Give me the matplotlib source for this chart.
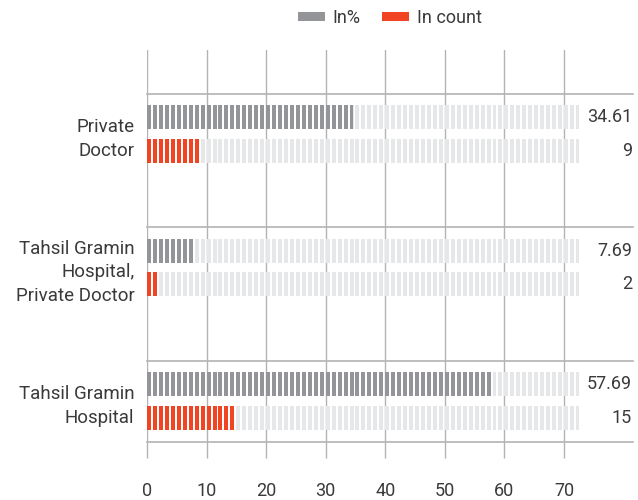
import numpy as np
import matplotlib.pyplot as plt
from matplotlib.patches import Patch

plt.rcParams['font.family'] = ['Roboto', 'DejaVu Sans']

# data
categories = ['Private\nDoctor', 'Tahsil Gramin\nHospital,\nPrivate Doctor', 'Tahsil Gramin\nHospital']
in_percent = [34.61, 7.69, 57.69]
in_count = [9, 2, 15]
bound = 72.5
x_ticks = [0, 10, 20, 30, 40, 50, 60, 70]

GREY = '#939598'
RED = '#f04423'
TRACK = '#e6e7e8'
LINE = '#b3b3b3'
TEXT = '#3a3a3a'

SEG = 0.67      # width of one block, in axis units
BAR_H = 0.18
OFFSET = 0.124


def blocks(ax, y, value, color):
    # one block per unit, last block clipped at the value
    lefts = np.arange(int(np.ceil(value)))
    widths = np.minimum(SEG, value - lefts)
    ax.barh(np.full(len(lefts), y), widths, left=lefts, height=BAR_H,
            color=color, linewidth=0, zorder=3)


fig = plt.figure(figsize=(6.38, 5), dpi=100)
ax = fig.add_axes([147 / 638, 1 - 442 / 500, 486 / 638, 392 / 500])

ypos = np.arange(len(categories))
for i, y in enumerate(ypos):
    for yy, val, col, lab in [(y - OFFSET, in_percent[i], GREY, f'{in_percent[i]:g}'),
                              (y + OFFSET, in_count[i], RED, f'{in_count[i]}')]:
        blocks(ax, yy, bound, TRACK)
        blocks(ax, yy, val, col)
        ax.text(81.4, yy, lab, ha='right', va='center', fontsize=13, color=TEXT)
    # separator above each group
    ax.plot([0, 1], [y - 0.3, y - 0.3], transform=ax.get_yaxis_transform(),
            color=LINE, lw=1.2, zorder=1, clip_on=False)

ax.set_xlim(0, 486 / 5.957)
ax.set_ylim(2.307, -0.629)

ax.set_xticks(x_ticks)
ax.set_xticklabels([str(t) for t in x_ticks])
ax.tick_params(axis='x', direction='out', length=11.5, width=1.0, color=LINE,
               pad=17, labelsize=13, labelcolor=TEXT)
ax.grid(axis='x', color=LINE, lw=1.0, zorder=0)

ax.set_yticks(ypos)
ax.set_yticklabels(categories, fontsize=13.5, color=TEXT, linespacing=1.42, ha='right')
ax.tick_params(axis='y', length=0, pad=9)

for s in ['top', 'right', 'left']:
    ax.spines[s].set_visible(False)
ax.spines['bottom'].set_color(LINE)
ax.spines['bottom'].set_linewidth(1.2)

handles = [Patch(facecolor=GREY, label='In%'), Patch(facecolor=RED, label='In count')]
fig.legend(handles=handles, loc='center', bbox_to_anchor=(390 / 638, 1 - 18 / 500),
           ncol=2, frameon=False, fontsize=13, handlelength=1.5, handleheight=0.4,
           handletextpad=0.4, columnspacing=1.2, labelcolor=TEXT)

fig.savefig('out.png', dpi=100)
